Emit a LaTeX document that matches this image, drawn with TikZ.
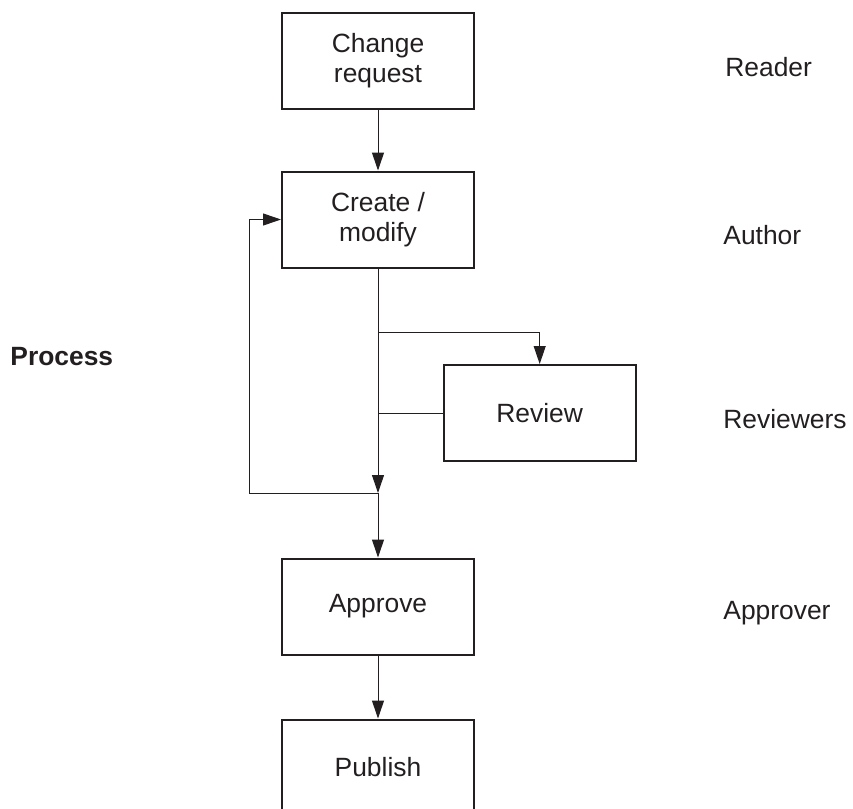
\documentclass[tikz,border=0pt]{standalone}
\usepackage{fontspec}
\setmainfont{Liberation Sans}
\usetikzlibrary{arrows.meta}
\definecolor{ink}{HTML}{231F20}

\begin{document}
\begin{tikzpicture}[x=0.5pt,y=-0.5pt,
    font=\fontsize{13.2}{15}\selectfont, color=ink,
    stepbox/.style={draw, line width=1pt, minimum width=96pt, minimum height=48pt, align=center, inner sep=2pt},
    role/.style={anchor=west, inner sep=0pt},
    flow/.style={line width=0.5pt, -{Triangle[length=9pt,width=6pt]}}]
    \useasboundingbox (0,0) rectangle (853,809);

    % Draw the process boxes
    \node[stepbox] (change) at (378,60.5) {Change\\request};
    \node[stepbox] (create) at (378,219.5) {Create /\\modify};
    \node[stepbox] (review) at (539.7,413) {Review};
    \node[stepbox] (approve) at (378,606.5) {Approve};
    \node[stepbox] (publish) at (378,767.5) {Publish};

    % Draw the roles
    \node[role] (reader) at (725,67) {Reader};
    \node[role] (author) at (723,235) {Author};
    \node[role] (reviewers) at (723,419) {Reviewers};
    \node[role] (approver) at (723,613) {Approver};
    \node[role, font=\fontsize{13.2}{15}\selectfont\bfseries] (process) at (10,357) {Process};

    % Branch points on the main line
    \coordinate (split) at (378,332);
    \coordinate (join) at (378,413);
    \coordinate (fork) at (378,493);
    \coordinate (back) at (249,493);

    % Draw the connectors
    \draw[flow] (change) -- (create);
    \draw[flow] (create) -- (fork);
    \draw[flow] (fork) -- (approve);
    \draw[flow] (approve) -- (publish);
    \draw[flow] (split) -| (review.north);
    \draw[line width=0.5pt] (review.west) -- (join);
    \draw[flow] (fork) -- (back) |- (create.west);
\end{tikzpicture}
\end{document}
